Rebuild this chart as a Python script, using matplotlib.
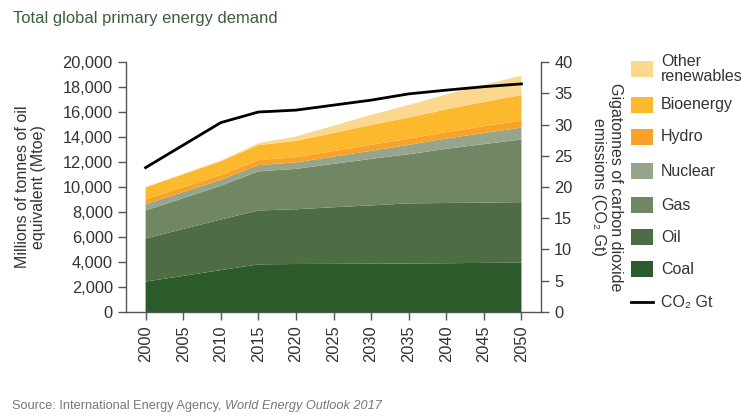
import numpy as np
import matplotlib
matplotlib.use("Agg")
import matplotlib.pyplot as plt
from matplotlib.patches import Rectangle
from matplotlib.lines import Line2D
from matplotlib.ticker import FuncFormatter

plt.rcParams['font.family'] = ['Liberation Sans', 'DejaVu Sans']

years = [2000, 2010, 2015, 2020, 2025, 2030, 2035, 2040, 2045, 2050]
coal = [2430, 3350, 3810, 3840, 3850, 3860, 3880, 3900, 3930, 3950]
oil = [3450, 4050, 4310, 4380, 4530, 4670, 4810, 4820, 4820, 4840]
gas = [2240, 2700, 3130, 3230, 3470, 3720, 3930, 4330, 4680, 5010]
nuclear = [500, 480, 500, 520, 580, 650, 750, 830, 890, 950]
hydro = [400, 380, 400, 420, 440, 470, 490, 510, 540, 560]
bioenergy = [950, 1100, 1200, 1300, 1450, 1600, 1700, 1820, 1940, 2050]
other_ren = [30, 60, 150, 350, 580, 800, 1000, 1200, 1380, 1550]
co2 = [23.1, 30.3, 32.0, 32.3, 33.1, 33.9, 34.9, 35.5, 36.05, 36.5]

labels = ['Coal', 'Oil', 'Gas', 'Nuclear', 'Hydro', 'Bioenergy', 'Other\nrenewables']
colors = ['#2b5a2b', '#4f6d45', '#718763', '#98a58d', '#f8a227', '#fdb92e', '#fbd88e']

fig = plt.figure(figsize=(7.52, 4.19), dpi=100)
ax = fig.add_axes([0.1676, 0.2554, 0.5518, 0.5966])

ax.stackplot(years, coal, oil, gas, nuclear, hydro, bioenergy, other_ren,
             colors=colors, linewidth=0)
ax.set_xlim(1997.4, 2052.6)
ax.set_ylim(0, 20000)
ax.set_yticks(np.arange(0, 20001, 2000))
ax.yaxis.set_major_formatter(FuncFormatter(lambda v, p: f"{int(v):,}"))
ax.set_xticks(np.arange(2000, 2051, 5))
ax.tick_params(axis='x', labelrotation=90)

ax2 = ax.twinx()
ax2.plot(years, co2, color='black', linewidth=2)
ax2.set_ylim(0, 40)
ax2.set_yticks(np.arange(0, 41, 5))

spine_col = '#555555'
for a in (ax, ax2):
    a.spines['top'].set_visible(False)
    for s in ('left', 'right', 'bottom'):
        a.spines[s].set_color(spine_col)
        a.spines[s].set_linewidth(1)
    a.tick_params(colors=spine_col, labelcolor='#333333', labelsize=11.8,
                  length=6, width=1)
ax.spines['right'].set_visible(False)
ax2.spines['left'].set_visible(False)
ax2.spines['bottom'].set_visible(False)

ax.set_ylabel("Millions of tonnes of oil\nequivalent (Mtoe)", fontsize=11.5,
              color='#333333', labelpad=12, linespacing=1.1)
ax2.set_ylabel("Gigatonnes of carbon dioxide\nemissions (CO₂ Gt)", fontsize=11.5,
               color='#333333', rotation=-90, labelpad=36, linespacing=1.1)

fig.text(13 / 752, 1 - 18 / 419, "Total global primary energy demand",
         fontsize=11.9, color='#3b5e3b', va='center')

# legend drawn by hand
W, H = 752, 419
leg_items = list(zip(labels, colors))[::-1]
ys = [69, 105, 137, 171, 205, 237, 269]
for (lab, col), yc in zip(leg_items, ys):
    fig.add_artist(Rectangle((631 / W, 1 - (yc + 8) / H), 22 / W, 16 / H,
                             facecolor=col, edgecolor='none',
                             transform=fig.transFigure))
    fig.text(661 / W, 1 - yc / H, lab, fontsize=11.5, color='#333333',
             va='center', linespacing=1.0)
fig.add_artist(Line2D([631 / W, 653 / W], [1 - 302 / H, 1 - 302 / H],
                      color='black', linewidth=2, transform=fig.transFigure))
fig.text(661 / W, 1 - 302 / H, "CO₂ Gt", fontsize=11.5, color='#333333',
         va='center')

# source line
t1 = fig.text(12 / W, 1 - 406 / H, "Source: International Energy Agency, ",
              fontsize=9.2, color='#777777', va='center')
fig.canvas.draw()
bb = t1.get_window_extent()
fig.text(bb.x1 / W, 1 - 406 / H, "World Energy Outlook 2017",
         fontsize=9.2, color='#777777', va='center', style='italic')

fig.savefig("out.png", dpi=100)
